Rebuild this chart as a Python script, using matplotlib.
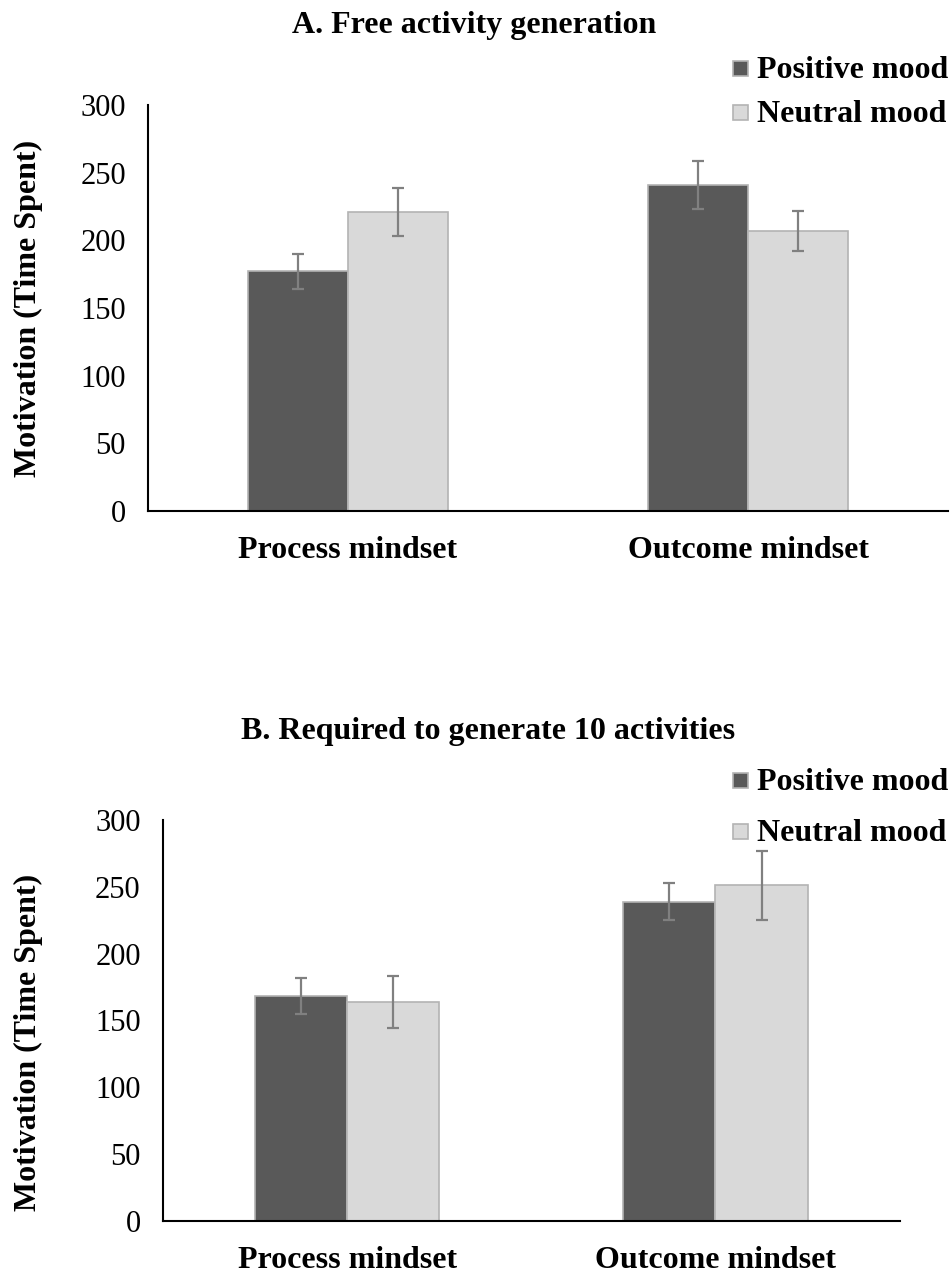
import matplotlib
matplotlib.use("Agg")
import matplotlib.pyplot as plt
import numpy as np
from matplotlib.patches import Rectangle

plt.rcParams["font.family"] = ["Liberation Serif", "DejaVu Serif"]

# ── data ──
categories = ["Process mindset", "Outcome mindset"]
series = ["Positive mood", "Neutral mood"]

free_positive = [177, 241]
free_neutral = [221, 207]
free_positive_err = [13, 18]
free_neutral_err = [18, 15]

req_positive = [168, 239]
req_neutral = [164, 251]
req_positive_err = [13.5, 14]
req_neutral_err = [19.5, 25.5]

yticks = [0, 50, 100, 150, 200, 250, 300]

COLOR_POS = "#595959"
COLOR_NEU = "#d9d9d9"
COLOR_EDGE = "#b3b3b3"
COLOR_ERR = "#808080"

W, H = 953, 1276
fig = plt.figure(figsize=(W / 100, H / 100), dpi=100, facecolor="white")


def draw_panel(ax, pos, neu, pos_err, neu_err):
    x = np.arange(len(categories))
    w = 0.25
    ekw = dict(ecolor=COLOR_ERR, elinewidth=1.6, capsize=4.5, capthick=1.6)
    ax.bar(x - w / 2, pos, w, color=COLOR_POS, edgecolor=COLOR_EDGE,
           linewidth=1.2, yerr=pos_err, error_kw=ekw)
    ax.bar(x + w / 2, neu, w, color=COLOR_NEU, edgecolor=COLOR_EDGE,
           linewidth=1.2, yerr=neu_err, error_kw=ekw)
    ax.set_xlim(-0.5, 1.5)
    ax.set_ylim(0, 300)
    ax.set_yticks(yticks)
    ax.set_yticklabels([str(v) for v in yticks], fontsize=22)
    ax.set_xticks(x)
    ax.set_xticklabels(categories, fontsize=23, fontweight="bold")
    ax.tick_params(axis="both", length=0)
    ax.tick_params(axis="y", pad=16)
    ax.tick_params(axis="x", pad=18)
    ax.spines["top"].set_visible(False)
    ax.spines["right"].set_visible(False)
    for s in ("left", "bottom"):
        ax.spines[s].set_linewidth(1.5)
        ax.spines[s].set_color("black")


def add_key(rows_px):
    # small square swatch + bold label, positions in pixels from the top
    for (yc, label), color in zip(zip(rows_px, series), [COLOR_POS, COLOR_NEU]):
        fig.patches.append(Rectangle((733 / W, 1 - (yc + 8) / H), 15 / W, 15 / H,
                                     transform=fig.transFigure, facecolor=color,
                                     edgecolor=COLOR_EDGE, linewidth=1.2))
        fig.text(757 / W, 1 - (yc + 10) / H, label, ha="left", va="baseline",
                 fontsize=23, fontweight="bold")


# A. free generation
ax1 = fig.add_axes([0.1553, 0.5995, 0.8395, 0.3182])
draw_panel(ax1, free_positive, free_neutral, free_positive_err, free_neutral_err)
add_key([68, 112])
fig.text(0.498, 0.980, "A. Free activity generation", ha="center", va="center",
         fontsize=23, fontweight="bold")
fig.text(0.030, 0.758, "Motivation (Time Spent)", rotation=90, ha="center",
         va="center", fontsize=23, fontweight="bold")

# B. required to generate 10
ax2 = fig.add_axes([0.171, 0.0431, 0.773, 0.3143])
draw_panel(ax2, req_positive, req_neutral, req_positive_err, req_neutral_err)
add_key([780, 831])
fig.text(0.512, 0.427, "B. Required to generate 10 activities", ha="center",
         va="center", fontsize=23, fontweight="bold")
fig.text(0.030, 0.183, "Motivation (Time Spent)", rotation=90, ha="center",
         va="center", fontsize=23, fontweight="bold")

fig.savefig("out.png", dpi=100, facecolor="white")
